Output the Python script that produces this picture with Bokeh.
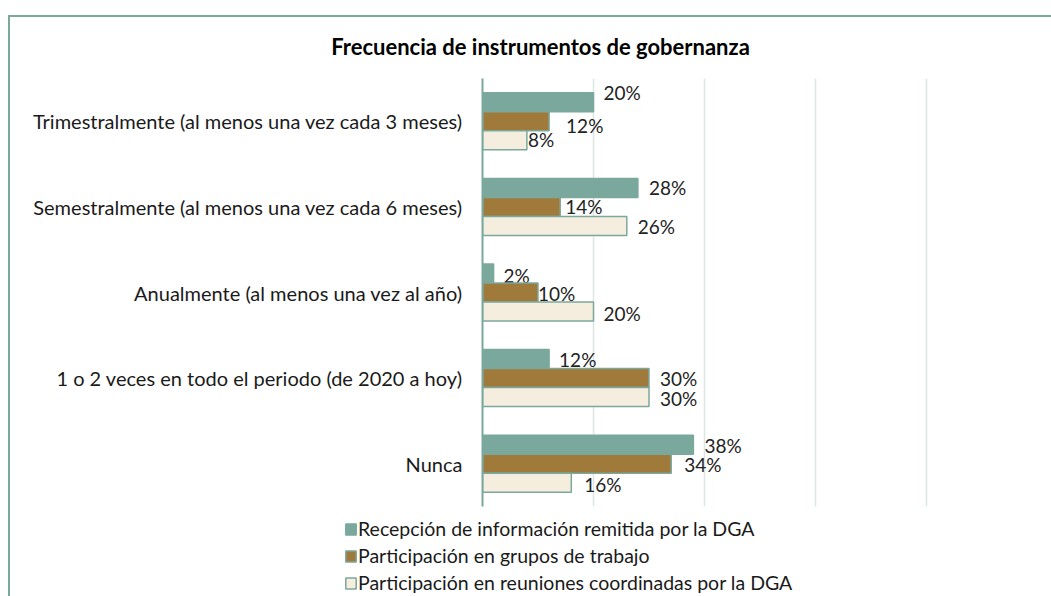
from bokeh.plotting import figure
from bokeh.layouts import column
from bokeh.models import (ColumnDataSource, FactorRange, Range1d, FixedTicker,
                          Legend, LegendItem, Label)
from bokeh.transform import dodge
from bokeh.core.properties import value
from bokeh.embed import file_html
from bokeh.resources import INLINE

# ---------------- data ----------------
categories = [
    "Trimestralmente (al menos una vez cada 3 meses)",
    "Semestralmente (al menos una vez cada 6 meses)",
    "Anualmente (al menos una vez al año)",
    "1 o 2 veces en todo el periodo (de 2020 a hoy)",
    "Nunca",
]
series_names = [
    "Recepción de información remitida por la DGA",
    "Participación en grupos de trabajo",
    "Participación en reuniones coordinadas por la DGA",
]
recepcion = [0.20, 0.28, 0.02, 0.12, 0.38]
grupos = [0.12, 0.14, 0.10, 0.30, 0.34]
reuniones = [0.08, 0.26, 0.20, 0.30, 0.16]
title_text = "Frecuencia de instrumentos de gobernanza"

# label nudges (pixels) mimicking the original label placement
label_dx = [[10, 11, 10, 10, 11], [17, 5, 0, 11, 13], [1, 11, 10, 11, 13]]
label_dy = [[-10, 0, 2, 0, 1], [4, 0, 1, 0, 1], [-1, 1, 2, 1, 2]]

# ---------------- styles ----------------
TEAL = "#7BA89C"
BROWN = "#A07A3A"
CREAM = "#F5EEDF"
GRID = "#DCE7E3"
FONT = "Lato"
W = 1041


def blank(h):
    f = figure(width=W, height=h, x_range=Range1d(0, 1), y_range=Range1d(0, 1),
               output_backend="svg", toolbar_location=None,
               min_border=0, min_border_left=0, min_border_right=0,
               min_border_top=0, min_border_bottom=0)
    f.frame_align = False
    f.axis.visible = False
    f.grid.visible = False
    f.outline_line_color = None
    f.border_fill_color = "white"
    f.background_fill_color = "white"
    return f


# ---------------- title strip ----------------
pt = blank(61)
pt.add_layout(Label(x=530, y=32, x_units="screen", y_units="screen",
                    text=title_text, text_align="center", text_baseline="middle",
                    text_font=FONT, text_font_style="bold",
                    text_font_size="22px", text_color="#000000"))

# ---------------- main chart ----------------
p = figure(
    width=W, height=433,
    y_range=FactorRange(factors=list(reversed(categories))),
    x_range=Range1d(0, 1.0),
    output_backend="svg", toolbar_location=None,
    min_border_left=472, min_border_right=14,
    min_border_top=0, min_border_bottom=5,
)
p.frame_align = False
p.outline_line_color = None
p.background_fill_color = "white"
p.border_fill_color = "white"

series = [recepcion, grupos, reuniones]
fills = [TEAL, BROWN, CREAM]
offsets = [0.222, 0.0, -0.222]
for i, (vals, fc, off) in enumerate(zip(series, fills, offsets)):
    src = ColumnDataSource(dict(
        cat=categories, val=vals,
        lbl=[f"{round(v * 100)}%" for v in vals],
        dx=label_dx[i], dy=label_dy[i],
    ))
    p.hbar(y=dodge("cat", off, range=p.y_range), right="val", left=0,
           height=0.222, source=src, fill_color=fc,
           line_color=TEAL, line_width=1.5)
    p.text(x="val", y=dodge("cat", off, range=p.y_range), text="lbl",
           x_offset="dx", y_offset="dy", source=src,
           text_baseline="middle", text_align="left",
           text_font=value(FONT), text_font_size="19px", text_color="#222222")

p.xaxis.visible = False
p.xgrid.ticker = FixedTicker(ticks=[0.2, 0.4, 0.6, 0.8, 1.0])
p.xgrid.grid_line_color = GRID
p.xgrid.grid_line_width = 1.5
p.ygrid.grid_line_color = None

p.yaxis.axis_line_color = TEAL
p.yaxis.axis_line_width = 2
p.yaxis.major_tick_line_color = None
p.yaxis.minor_tick_line_color = None
p.yaxis.major_tick_out = 0
p.yaxis.major_label_standoff = 20
p.yaxis.major_label_text_font = FONT
p.yaxis.major_label_text_font_size = "20px"
p.yaxis.major_label_text_color = "#1a1a1a"

# ---------------- legend strip ----------------
pl = blank(85)
items = []
for name, fc in zip(series_names, fills):
    # legend swatch proxy: a zero-width bar placed outside the strip's view
    proxy = pl.hbar(y=[-10], right=[0], left=[0], height=0.2,
                    fill_color=fc, line_color=TEAL, line_width=1.5)
    items.append(LegendItem(label=name, renderers=[proxy]))
legend = Legend(items=items, location=(334, 0), orientation="vertical",
                label_text_font=FONT, label_text_font_size="19.5px",
                label_text_color="#1a1a1a",
                glyph_width=13, glyph_height=14, label_standoff=1,
                label_height=27, spacing=0, padding=0, margin=0,
                border_line_alpha=0, background_fill_alpha=0)
pl.add_layout(legend, "center")

layout = column(pt, p, pl, spacing=0, styles={
    "margin-left": "8px", "margin-top": "15px",
    "border-left": f"2px solid {TEAL}", "border-top": f"2px solid {TEAL}",
})

open("out.html", "w").write(file_html(layout, INLINE))
